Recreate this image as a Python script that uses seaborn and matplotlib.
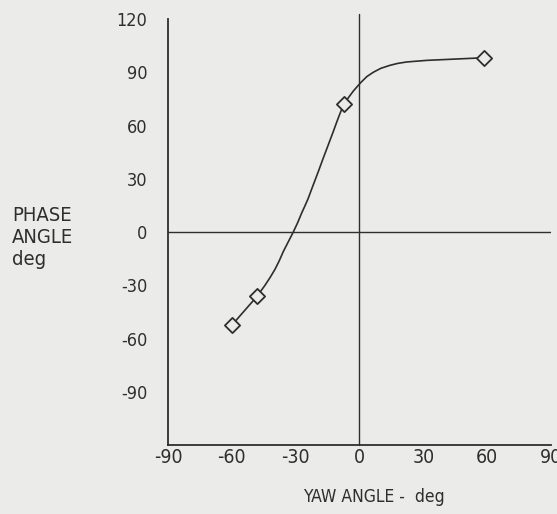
import matplotlib
matplotlib.use("Agg")
import matplotlib.pyplot as plt
import seaborn as sns
import pandas as pd

# measured data points (diamonds)
yaw_pts = [-60.0, -48.2, -7.4, 58.4]
phase_pts = [-52.5, -36.3, 72.0, 98.2]

# faired curve
curve_yaw = [-60.0, -48.2, -44.4, -42.0, -39.7, -37.7, -35.8, -33.5, -31.1, -29.0,
             -27.2, -25.6, -24.1, -22.9, -21.7, -19.3, -17.0, -14.6, -12.3, -10.7,
             -9.2, -7.4, -5.0, -2.9, 0.6, 3.5, 6.5, 10.0, 14.3, 18.0, 22.2,
             31.6, 42.5, 53.5, 58.4]
curve_phase = [-52.5, -36.3, -30.0, -25.6, -21.0, -16.2, -11.0, -5.6, 0.0, 5.4,
               10.6, 14.8, 18.9, 22.8, 26.6, 34.2, 41.7, 49.3, 56.6, 61.9,
               66.6, 72.0, 76.0, 79.4, 84.2, 87.6, 90.0, 92.2, 93.9, 95.0, 95.8,
               96.7, 97.3, 97.9, 98.2]

x_ticks = [-90, -60, -30, 0, 30, 60, 90]
y_ticks = [-90, -60, -30, 0, 30, 60, 90, 120]

sns.set_style("white")
plt.rcParams['font.family'] = ["DejaVu Sans"]
plt.rcParams['font.stretch'] = 'condensed'

BG = "#ebebea"
INK = "#2e2e2e"

fig = plt.figure(figsize=(5.57, 5.14), dpi=100, facecolor=BG)
ax = fig.add_axes([0.3016, 0.1342, 0.6875, 0.8288])
ax.set_facecolor(BG)

pts = pd.DataFrame({"yaw": yaw_pts, "phase": phase_pts})
crv = pd.DataFrame({"yaw": curve_yaw, "phase": curve_phase})

# reference lines
ax.axhline(0, color=INK, lw=1.0, zorder=1)
ax.plot([0, 0], [-120, 123], color=INK, lw=1.0, clip_on=False, zorder=1)

sns.lineplot(data=crv, x="yaw", y="phase", ax=ax, color=INK, lw=1.2,
             sort=False, estimator=None, zorder=2)
sns.scatterplot(data=pts, x="yaw", y="phase", ax=ax, marker="D", s=60,
                facecolor=BG, edgecolor=INK, linewidth=1.3, zorder=3)

ax.set_xlim(-90, 90)
ax.set_ylim(-120, 120)
ax.set_xticks(x_ticks)
ax.set_yticks(y_ticks)
ax.set_yticklabels([str(v) for v in y_ticks])
ax.set_xticklabels([str(v) for v in x_ticks])

for s in ["top", "right"]:
    ax.spines[s].set_visible(False)
for s in ["left", "bottom"]:
    ax.spines[s].set_color(INK)
    ax.spines[s].set_linewidth(1.3)

ax.tick_params(axis="y", direction="in", length=7, width=1.2, color=INK,
               labelsize=13, labelcolor=INK, pad=15)
ax.tick_params(axis="x", direction="in", length=7, width=1.2, color=INK,
               labelsize=14, labelcolor=INK, pad=2)
ax.set_xlabel("")
ax.set_ylabel("")

fig.text(0.022, 0.60, "PHASE\nANGLE\ndeg", ha="left", va="top",
         fontsize=14.5, color=INK, linespacing=1.2)
fig.text(0.671, 0.033, "YAW ANGLE -  deg", ha="center", va="center",
         fontsize=12.5, color=INK)

fig.savefig("out.png", dpi=100, facecolor=BG)
